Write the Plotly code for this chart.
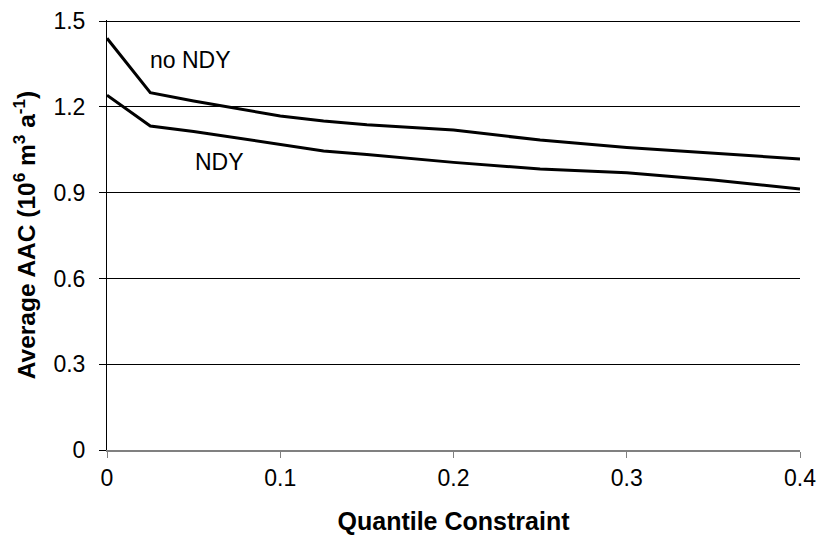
import plotly.graph_objects as go

quantile = [0, 0.025, 0.05, 0.1, 0.125, 0.15, 0.2, 0.25, 0.3, 0.35, 0.4]
no_ndy = [1.44, 1.25, 1.221, 1.168, 1.151, 1.138, 1.119, 1.084, 1.058, 1.038, 1.018]
ndy = [1.241, 1.133, 1.114, 1.067, 1.046, 1.034, 1.006, 0.983, 0.970, 0.944, 0.913]
y_ticks = [0, 0.3, 0.6, 0.9, 1.2, 1.5]
x_ticks = [0, 0.1, 0.2, 0.3, 0.4]

FONT = "Liberation Sans, Arial, sans-serif"

fig = go.Figure()
fig.add_trace(go.Scatter(x=quantile, y=no_ndy, mode="lines",
                         line=dict(color="black", width=3), name="no NDY"))
fig.add_trace(go.Scatter(x=quantile, y=ndy, mode="lines",
                         line=dict(color="black", width=3), name="NDY"))

fig.add_annotation(x=0.048, y=1.364, text="no NDY", showarrow=False,
                   font=dict(family=FONT, size=23, color="black"))
fig.add_annotation(x=0.065, y=1.008, text="NDY", showarrow=False,
                   font=dict(family=FONT, size=23, color="black"))

fig.update_layout(
    width=822, height=544,
    margin=dict(l=107, r=22, t=20, b=94, autoexpand=False),
    paper_bgcolor="white", plot_bgcolor="white",
    showlegend=False,
    font=dict(family=FONT, size=23, color="black"),
    xaxis=dict(range=[0, 0.4], tickvals=x_ticks, ticktext=["0", "0.1", "0.2", "0.3", "0.4"],
               showgrid=False, zeroline=False, showline=True, linecolor="#808080", linewidth=2,
               ticks="outside", ticklen=6, tickcolor="#808080", tickwidth=1,
               tickfont=dict(size=23), automargin=False,
               title=dict(text="<b>Quantile Constraint</b>", font=dict(size=25), standoff=23)),
    yaxis=dict(range=[0, 1.504], tickvals=y_ticks, ticktext=["0", "0.3", "0.6", "0.9", "1.2", "1.5"],
               showgrid=True, gridcolor="black", gridwidth=1, zeroline=False,
               showline=True, linecolor="black", linewidth=1,
               ticks="outside", ticklen=7, tickcolor="black",
               tickfont=dict(size=23), ticklabelstandoff=9, automargin=False,
               title=dict(text="<b>Average AAC (10<sup>6</sup> m<sup>3</sup> a<sup>-1</sup>)</b>",
                          font=dict(size=24.5), standoff=10)),
)

fig.write_html("out.html", config={"displayModeBar": False},
               post_script="document.body.style.margin='0';")
